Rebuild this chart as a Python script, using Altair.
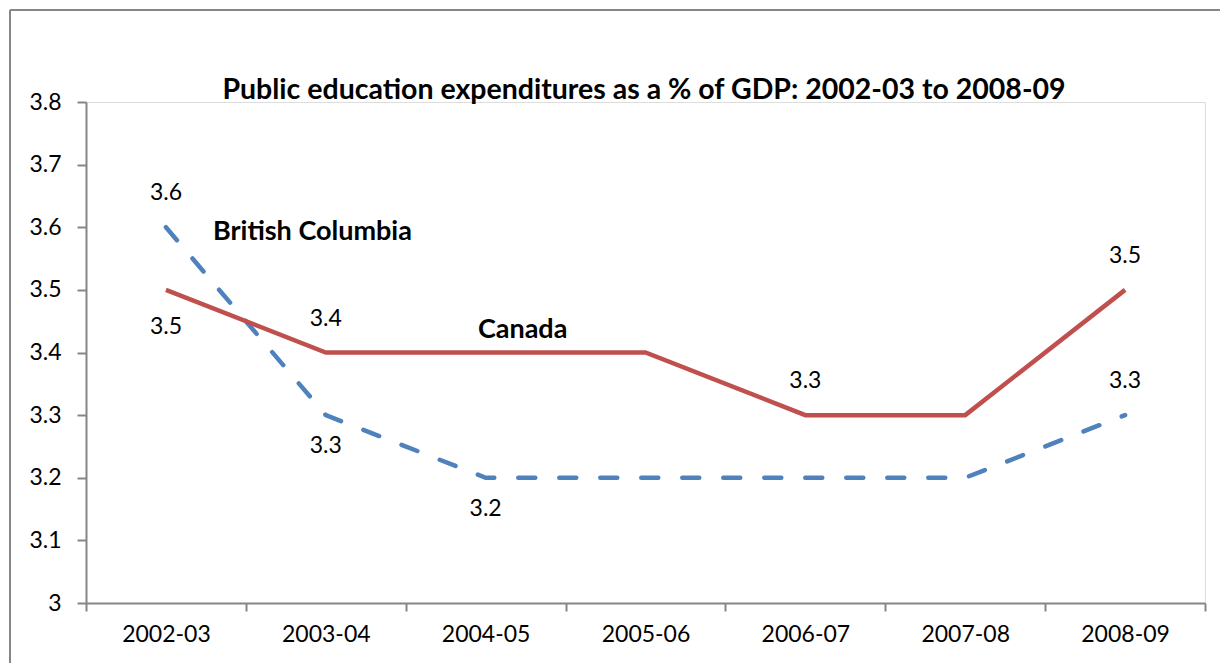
import altair as alt
import pandas as pd

years = ["2002-03", "2003-04", "2004-05", "2005-06", "2006-07", "2007-08", "2008-09"]
canada = [3.5, 3.4, 3.4, 3.4, 3.3, 3.3, 3.5]
bc = [3.6, 3.3, 3.2, 3.2, 3.2, 3.2, 3.3]
y_ticks = [3.0, 3.1, 3.2, 3.3, 3.4, 3.5, 3.6, 3.7, 3.8]
title_text = "Public education expenditures as a % of GDP: 2002-03 to 2008-09"

FONT = "Lato"
AXIS_GRAY = "#868686"
RED = "#C0504D"
BLUE = "#4F81BD"

df_ca = pd.DataFrame({"year": years, "value": canada})
df_bc = pd.DataFrame({"year": years, "value": bc})

xenc = alt.X("year:N", sort=years, bandPosition=0.5,
             scale=alt.Scale(domain=years, paddingInner=0, paddingOuter=0),
             axis=alt.Axis(title=None, tickBand="extent", labelAngle=0,
                           labelFont=FONT, labelFontSize=23, labelColor="black",
                           domainColor=AXIS_GRAY, domainWidth=2, tickColor=AXIS_GRAY,
                           tickWidth=2, tickSize=8, labelPadding=12, grid=False))
yenc = alt.Y("value:Q", scale=alt.Scale(domain=[3, 3.8], nice=False, zero=False),
             axis=alt.Axis(title=None, values=y_ticks, format=".1~f",
                           labelFont=FONT, labelFontSize=23, labelColor="black",
                           domainColor=AXIS_GRAY, domainWidth=2, tickColor=AXIS_GRAY,
                           tickWidth=2, tickSize=9, labelPadding=16, grid=False))

base_ca = alt.Chart(df_ca)
base_bc = alt.Chart(df_bc)

line_bc = base_bc.mark_line(color=BLUE, strokeWidth=4.5, strokeDash=[17, 24],
                            strokeCap="round").encode(x=xenc, y=yenc)
line_ca = base_ca.mark_line(color=RED, strokeWidth=4.5).encode(x=xenc, y=yenc)

def labels(base, cats, dy):
    return base.mark_text(font=FONT, fontSize=23, color="black", dy=dy).encode(
        x=alt.X("year:N", sort=years, bandPosition=0.5),
        y="value:Q",
        text=alt.Text("value:Q", format=".1f"),
    ).transform_filter(alt.FieldOneOfPredicate(field="year", oneOf=cats))

ca_above = labels(base_ca, ["2003-04", "2006-07", "2008-09"], -34)
ca_below = labels(base_ca, ["2002-03"], 37)
bc_above = labels(base_bc, ["2002-03", "2008-09"], -34)
bc_below = labels(base_bc, ["2003-04", "2004-05"], 31)

bc_name = base_bc.mark_text(font=FONT, fontSize=27, fontWeight="bold", color="black",
                            align="left", dx=47, dy=5).encode(
    x=alt.X("year:N", sort=years, bandPosition=0.5), y="value:Q",
    text=alt.value("British Columbia")).transform_filter(alt.datum.year == "2002-03")
ca_name = base_ca.mark_text(font=FONT, fontSize=27, fontWeight="bold", color="black",
                            align="center", dx=37, dy=-23).encode(
    x=alt.X("year:N", sort=years, bandPosition=0.5), y="value:Q",
    text=alt.value("Canada")).transform_filter(alt.datum.year == "2004-05")

# chart title, drawn as a single text mark above the plot
title = alt.Chart(pd.DataFrame({"t": [title_text]})).mark_text(
    font=FONT, fontSize=28.5, fontWeight="bold", color="black",
    align="center", baseline="alphabetic").encode(
    x=alt.value(558), y=alt.value(-3), text="t:N")

# chart-area frame (left and top edges)
frame_left = alt.Chart(df_ca).mark_rule(color=AXIS_GRAY, strokeWidth=2).encode(
    x=alt.value(-76), y=alt.value(-92), y2=alt.value(600))
frame_top = alt.Chart(df_ca).mark_rule(color=AXIS_GRAY, strokeWidth=2).encode(
    x=alt.value(-76), x2=alt.value(1140), y=alt.value(-92))

chart = alt.layer(
    frame_left, frame_top, line_bc, line_ca,
    ca_above, ca_below, bc_above, bc_below, bc_name, ca_name, title,
).properties(
    width=1119, height=501,
    autosize=alt.AutoSizeParams(type="none"),
    padding={"left": 86, "top": 102, "right": 15, "bottom": 60},
).configure_view(stroke=None).configure(background="white")

chart.save("out.html", embed_options={"renderer": "svg", "actions": False})
